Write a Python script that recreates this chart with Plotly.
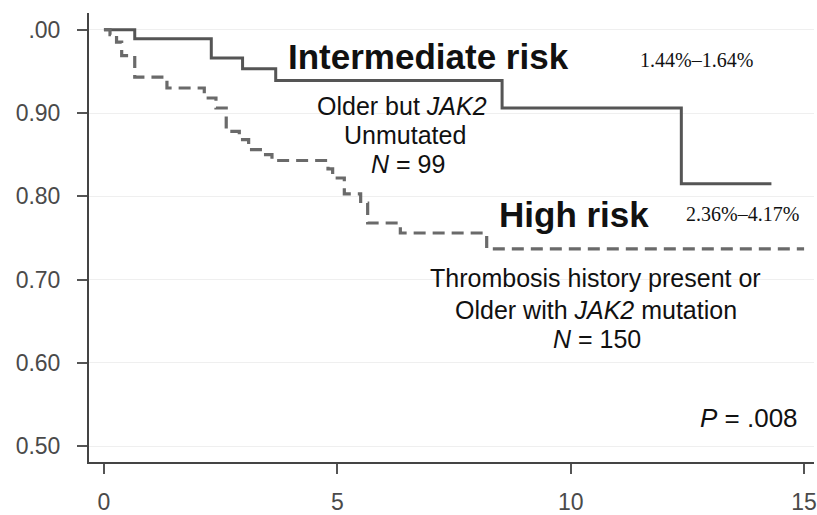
import plotly.graph_objects as go

# ---- data ----
inter_time = [0.0, 0.66, 2.30, 2.97, 3.68, 8.53, 12.37, 14.30]
inter_surv = [1.000, 0.989, 0.966, 0.953, 0.939, 0.906, 0.815, 0.815]

high_time = [0.0, 0.13, 0.27, 0.38, 0.66, 1.35, 2.15, 2.40, 2.62, 2.90, 3.10,
             3.40, 3.60, 4.80, 4.90, 5.15, 5.50, 5.65, 6.35, 8.20, 15.00]
high_surv = [1.000, 0.994, 0.985, 0.969, 0.943, 0.930, 0.918, 0.906, 0.878, 0.868, 0.856,
             0.850, 0.843, 0.833, 0.822, 0.803, 0.792, 0.768, 0.756, 0.737, 0.737]

y_tickvals = [0.5, 0.6, 0.7, 0.8, 0.9, 1.0]
y_ticktext = ["0.50", "0.60", "0.70", "0.80", "0.90", ".00"]
x_tickvals = [0, 5, 10, 15]
x_ticktext = ["0", "5", "10", "15"]

# ---- layout helpers (pixel -> data) ----
X0_PX, X_PER = 104.0, 46.87
Y1_PX, Y_PER = 30.0, 848.0


def dx(px):
    return (px - X0_PX) / X_PER


def dy(py):
    return 1.0 - (py - Y1_PX) / Y_PER


SANS = "Liberation Sans, Arial, sans-serif"
SERIF = "Liberation Serif, Times New Roman, serif"

fig = go.Figure()
fig.add_trace(go.Scatter(x=inter_time, y=inter_surv, mode="lines", line_shape="hv",
                         line=dict(color="#555555", width=3), showlegend=False))
fig.add_trace(go.Scatter(x=high_time, y=high_surv, mode="lines", line_shape="hv",
                         line=dict(color="#6a6a6a", width=3.2, dash="12px,7px"), showlegend=False))

ann = [
    ("<b>Intermediate risk</b>", 430, 57.5, 35, SANS),
    ("1.44%–1.64%", 699, 61, 20, SERIF),
    ("Older but <i>JAK2</i>", 403, 108, 25, SANS),
    ("Unmutated", 406, 137, 25, SANS),
    ("<i>N</i> = 99", 409, 167, 25, SANS),
    ("<b>High risk</b>", 576, 218, 35, SANS),
    ("2.36%–4.17%", 745, 218, 20, SERIF),
    ("Thrombosis history present or", 598, 283, 25, SANS),
    ("Older with <i>JAK2</i> mutation", 598, 315, 25, SANS),
    ("<i>N</i> = 150", 599, 345, 25, SANS),
    ("<i>P</i> = .008", 752, 425, 26, SANS),
]
for text, px, py, size, fam in ann:
    fig.add_annotation(x=dx(px), y=dy(py), xref="x", yref="y", text=text, showarrow=False,
                       xanchor="center", yanchor="middle",
                       font=dict(family=fam, size=size, color="#111111"))

fig.update_layout(
    width=817, height=515,
    margin=dict(l=89, r=0, t=13, b=45),
    paper_bgcolor="white", plot_bgcolor="white",
    xaxis=dict(range=[dx(89), dx(817)], tickvals=x_tickvals, ticktext=x_ticktext,
               showgrid=False, zeroline=False, showline=True, linecolor="#444444", linewidth=2,
               ticks="outside", ticklen=10, tickwidth=2, tickcolor="#555555",
               tickfont=dict(family=SANS, size=23, color="#4a4a4a"), ticklabelstandoff=8,
               ticklabeloverflow="allow"),
    yaxis=dict(range=[dy(470), dy(13)], tickvals=y_tickvals, ticktext=y_ticktext,
               showgrid=True, gridcolor="#efefef", gridwidth=1, zeroline=False,
               showline=True, linecolor="#444444", linewidth=2,
               ticks="outside", ticklen=10, tickwidth=2, tickcolor="#555555",
               tickfont=dict(family=SANS, size=23, color="#4a4a4a"), ticklabelstandoff=12),
)

fig.write_html("out.html")
